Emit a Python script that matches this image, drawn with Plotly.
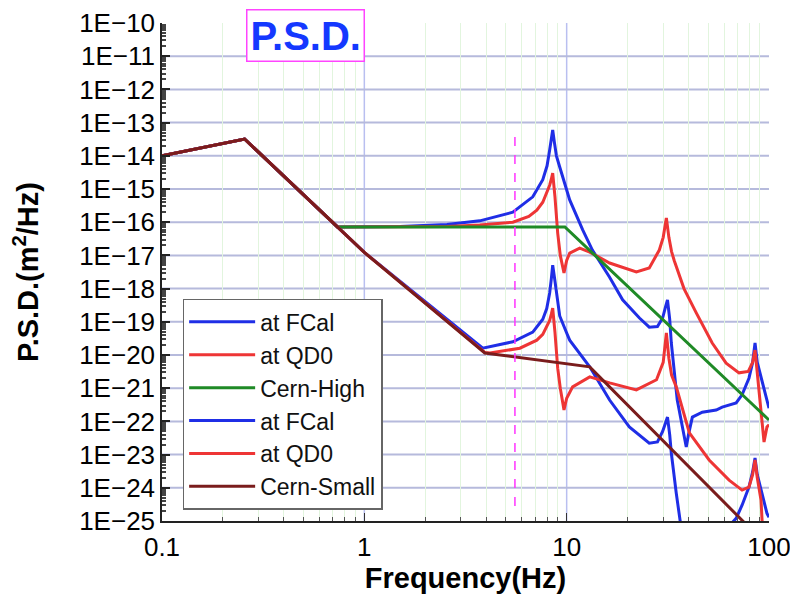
import plotly.graph_objects as go

# ---------------- data ----------------
freq_cern_high = [0.1, 0.256, 0.736, 9.8, 100]
psd_cern_high = [1.0e-14, 3.2e-14, 7.2e-17, 7.2e-17, 1.1e-22]

freq_cern_small = [0.1, 0.256, 0.736, 1.0, 3.94, 13.0, 100]
psd_cern_small = [1.0e-14, 3.2e-14, 7.2e-17, 1.23e-17, 1.15e-20, 4.4e-21, 1.6e-26]

freq_fcal_high = [0.1, 0.256, 0.736, 1.5, 2.56, 3.72, 5.42, 6.8, 7.62, 8.0, 8.24, 8.4, 8.53,
                  8.7, 8.9, 9.24, 10.35, 12.0, 13.4, 16.3, 18.9, 22.9, 25.6, 28.1, 29.8, 30.8,
                  31.5, 32.3, 32.9, 35.2, 38.1, 39.0, 40.0, 41.8, 46.8, 54.8, 58.7, 68.8, 73.6,
                  79.6, 83.0, 85.3, 87.5, 91.3, 97.7, 100]
psd_fcal_high = [1.0e-14, 3.2e-14, 7.2e-17, 7.4e-17, 8.5e-17, 1.1e-16, 2.0e-16, 5.8e-16, 1.9e-15,
                 5.0e-15, 1.5e-14, 3.0e-14, 6.0e-14, 2.5e-14, 1.0e-14, 4.6e-15, 4.7e-16, 5.9e-17,
                 1.45e-17, 2.2e-18, 4.6e-19, 1.3e-19, 6.9e-20, 7.2e-20, 1.3e-19, 2.8e-19, 4.6e-19,
                 1.2e-19, 2.3e-20, 4.4e-22, 3.4e-23, 1.7e-23, 4.0e-23, 1.35e-22, 1.9e-22, 2.2e-22,
                 2.7e-22, 3.6e-22, 6.3e-22, 2.0e-21, 6.0e-21, 2.3e-20, 6.0e-21, 2.2e-21, 3.6e-22,
                 2.5e-22]

freq_qd0_high = [0.1, 0.256, 0.736, 2.56, 3.72, 5.42, 6.5, 7.12, 7.62, 7.97, 8.24, 8.4, 8.53,
                 8.75, 9.03, 9.3, 9.7, 10.0, 10.35, 11.6, 13.0, 16.3, 22.1, 25.6, 28.7, 30.0,
                 31.1, 32.0, 33.0, 34.0, 38.0, 43.7, 52.4, 61.4, 71.1, 79.0, 83.0, 85.3, 87.5,
                 91.3, 94.5, 97.7, 100]
psd_qd0_high = [1.0e-14, 3.2e-14, 7.2e-17, 7.4e-17, 8.3e-17, 1.0e-16, 1.5e-16, 2.3e-16, 4.0e-16,
                7.6e-16, 1.3e-15, 2.0e-15, 3.0e-15, 6.0e-16, 4.7e-17, 1.0e-17, 2.95e-18, 7.0e-18,
                1.17e-17, 1.66e-17, 1.26e-17, 5.9e-18, 3.2e-18, 4.2e-18, 1.45e-17, 3.5e-17,
                1.35e-16, 3.5e-17, 1.3e-17, 7.0e-18, 1.0e-18, 1.86e-19, 2.3e-20, 5.7e-21, 2.9e-21,
                3.2e-21, 6.0e-21, 1.4e-20, 3.0e-21, 2.2e-22, 2.4e-23, 6.8e-23, 8.0e-23]

freq_fcal_small = [0.1, 0.256, 0.736, 1.0, 3.85, 5.42, 6.8, 7.62, 7.97, 8.24, 8.4, 8.53, 8.7,
                   8.9, 9.24, 10.0, 10.35, 13.0, 16.3, 20.4, 25.6, 28.1, 29.8, 30.8, 31.5, 32.3,
                   32.9, 34.8, 36.1, 39.0, 45.0, 55.0, 62.0, 68.8, 73.6, 79.6, 83.0, 85.3, 87.5,
                   91.3, 97.7, 100]
psd_fcal_small = [1.0e-14, 3.2e-14, 7.2e-17, 1.23e-17, 1.6e-20, 2.5e-20, 4.9e-20, 1.2e-19,
                  2.5e-19, 7.4e-19, 2.0e-18, 5.1e-18, 2.2e-18, 8.0e-19, 1.5e-19, 4.6e-20, 2.8e-20,
                  4.4e-21, 4.4e-22, 6.8e-23, 2.2e-23, 2.4e-23, 5.0e-23, 9.0e-23, 1.35e-22,
                  4.0e-23, 1.12e-23, 6.9e-25, 1.2e-25, 5.0e-27, 3.0e-26, 4.0e-26, 6.0e-26,
                  1.2e-25, 3.0e-25, 1.05e-24, 3.0e-24, 7.9e-24, 2.5e-24, 8.5e-25, 1.7e-25, 1.3e-25]

freq_qd0_small = [0.1, 0.256, 0.736, 1.0, 3.94, 4.18, 5.87, 7.12, 7.62, 7.97, 8.24, 8.4, 8.53,
                  8.75, 9.03, 9.3, 9.7, 10.0, 10.7, 13.0, 16.3, 22.1, 27.8, 30.0, 31.1, 32.0,
                  33.0, 34.8, 40.4, 50.6, 63.5, 73.6, 79.6, 83.0, 85.3, 87.5, 91.3, 92.4, 94.5,
                  97.7, 100]
psd_qd0_small = [1.0e-14, 3.2e-14, 7.2e-17, 1.23e-17, 1.2e-20, 1.15e-20, 1.6e-20, 2.8e-20,
                 4.2e-20, 6.9e-20, 1.1e-19, 1.7e-19, 2.6e-19, 5.0e-20, 4.0e-21, 1.0e-21, 2.2e-22,
                 5.0e-22, 1.1e-21, 2.2e-21, 1.45e-21, 8.9e-22, 1.8e-21, 6.0e-21, 4.6e-20, 8.0e-21,
                 2.5e-21, 1.1e-21, 4.5e-23, 6.9e-24, 1.7e-24, 8.5e-25, 1.05e-24, 2.5e-24, 6.9e-24,
                 2.0e-24, 4.3e-25, 1.07e-25, 2.0e-26, 5.0e-26, 6.0e-26]

marker_freq = [5.55, 5.55]
marker_psd = [3.7e-14, 2.1e-25]

x_tickvals = [0.1, 1, 10, 100]
x_ticktext = ["0.1", "1", "10", "100"]
y_tickvals = [10.0 ** e for e in range(-10, -26, -1)]
y_ticktext = ["1E\u2212%d" % e for e in range(10, 26)]

# ---------------- figure ----------------
BLUE = "#1f2ee6"
RED = "#ee3535"
GREEN = "#1f8a26"
BROWN = "#7a1c1c"
FONT = "Liberation Sans, Arial, Helvetica, sans-serif"

fig = go.Figure()
series = [
    ("at FCal", freq_fcal_high, psd_fcal_high, BLUE),
    ("at QD0", freq_qd0_high, psd_qd0_high, RED),
    ("Cern-High", freq_cern_high, psd_cern_high, GREEN),
    ("at FCal", freq_fcal_small, psd_fcal_small, BLUE),
    ("at QD0", freq_qd0_small, psd_qd0_small, RED),
    ("Cern-Small", freq_cern_small, psd_cern_small, BROWN),
]
for name, fx, fy, col in series:
    fig.add_trace(go.Scatter(x=fx, y=fy, mode="lines", name=name,
                             line=dict(color=col, width=3)))

fig.add_trace(go.Scatter(x=marker_freq, y=marker_psd, mode="lines", showlegend=False,
                         line=dict(color="#ff33ff", width=1.5, dash="dash")))

x_minor = [m * 10.0 ** e for e in range(-1, 2) for m in range(2, 10)]
y_minor = [m * 10.0 ** e for e in range(-25, -10) for m in range(2, 10)]

# interior grid lines only (no line on the top / right edges, as in the reference)
grid_shapes = [dict(type="line", xref="x", yref="paper", x0=v, x1=v, y0=0, y1=1,
                    layer="below", line=dict(color="#b9bff0", width=1.5)) for v in (1, 10)]
grid_shapes += [dict(type="line", xref="paper", yref="y", x0=0, x1=1, y0=v, y1=v,
                     layer="below", line=dict(color="#b6badc", width=2))
                for v in y_tickvals[1:-1]]

# the page body adds an 8px margin, so the figure is sized to fit the 798x613 window
fig.update_layout(
    width=782, height=597,
    margin=dict(l=154, r=21, t=15, b=84, autoexpand=False),
    paper_bgcolor="white", plot_bgcolor="white",
    font=dict(family=FONT, color="black"),
    showlegend=True,
    legend=dict(x=0.034, y=0.446, xanchor="left", yanchor="top",
                bgcolor="white", bordercolor="#666666", borderwidth=1.5,
                font=dict(size=23, color="#111111", family=FONT),
                tracegroupgap=0, itemwidth=66),
    shapes=grid_shapes,
    xaxis=dict(type="log", range=[-1, 2], automargin=False,
               tickvals=x_tickvals, ticktext=x_ticktext,
               ticks="inside", ticklen=8, tickcolor="#333333", tickwidth=1,
               tickfont=dict(size=26, color="black"),
               ticklabelstandoff=2, ticklabeloverflow="allow",
               showline=True, linecolor="#222222", linewidth=1.5,
               showgrid=False, zeroline=False,
               minor=dict(tickvals=x_minor, ticks="inside", ticklen=4, tickcolor="#555555",
                          showgrid=True, gridcolor="#e2f5de", gridwidth=1),
               title=dict(text="<b>Frequency(Hz)</b>", font=dict(size=29, color="black"),
                          standoff=6)),
    yaxis=dict(type="log", range=[-25, -10], automargin=False,
               tickvals=y_tickvals, ticktext=y_ticktext,
               ticks="inside", ticklen=8, tickcolor="#222222", tickwidth=1.5,
               tickfont=dict(size=26, color="black"),
               ticklabeloverflow="allow",
               showline=True, linecolor="#222222", linewidth=1.5,
               showgrid=False, zeroline=False,
               minor=dict(tickvals=y_minor, ticks="inside", ticklen=4, tickcolor="#444444",
                          showgrid=False),
               title=dict(text="<b>P.S.D.(m<sup>2</sup>/Hz)</b>",
                          font=dict(size=29, color="black"), standoff=46)),
    annotations=[dict(x=0.2356, y=0.974, xref="paper", yref="paper",
                      xanchor="center", yanchor="middle", showarrow=False,
                      text="<b>P.S.D.</b>", font=dict(size=40, color="#1438ff", family=FONT),
                      bgcolor="white", bordercolor="#ff44ff", borderwidth=1.5, borderpad=3)],
)

fig.write_html("out.html")
